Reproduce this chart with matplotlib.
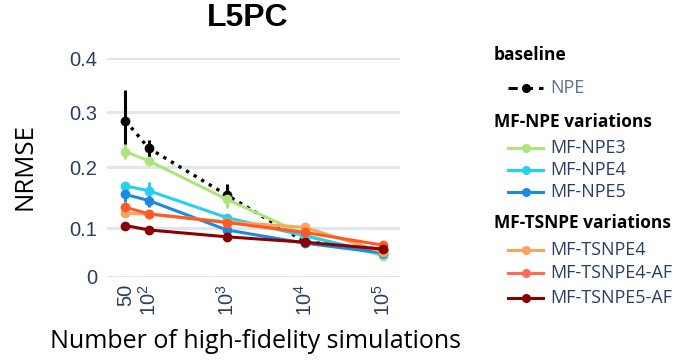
import numpy as np
import matplotlib
matplotlib.use("Agg")
import matplotlib.pyplot as plt
from matplotlib.lines import Line2D

plt.rcParams['mathtext.fontset'] = 'custom'
plt.rcParams['mathtext.rm'] = 'Liberation Sans'

# ---------------- data ----------------
x_vals = [50, 100, 1000, 10000, 100000]
x_tick_labels = ['50', r'$\mathregular{10^{2}}$', r'$\mathregular{10^{3}}$',
                 r'$\mathregular{10^{4}}$', r'$\mathregular{10^{5}}$']
y_ticks = [0, 0.1, 0.2, 0.3, 0.4]
y_tick_labels = ['0', '0.1', '0.2', '0.3', '0.4']

series_names = ['NPE', 'MF-NPE3', 'MF-NPE4', 'MF-NPE5',
                'MF-TSNPE4', 'MF-TSNPE4-AF', 'MF-TSNPE5-AF']
npe = [0.284, 0.234, 0.154, 0.072, 0.056]
npe_err = [0.056, 0.015, 0.018, 0.003, 0.002]
mf_npe3 = [0.228, 0.211, 0.147, 0.086, 0.043]
mf_npe3_err = [0.014, 0.005, 0.014, 0.003, 0.002]
mf_npe4 = [0.169, 0.161, 0.117, 0.084, 0.047]
mf_npe4_err = [0.004, 0.014, 0.004, 0.003, 0.002]
mf_npe5 = [0.155, 0.145, 0.096, 0.069, 0.049]
mf_npe5_err = [0.012, 0.010, 0.003, 0.002, 0.002]
mf_tsnpe4 = [0.124, 0.123, 0.110, 0.101, 0.051]
mf_tsnpe4_err = [0.003, 0.003, 0.003, 0.003, 0.002]
mf_tsnpe4_af = [0.134, 0.123, 0.109, 0.091, 0.065]
mf_tsnpe4_af_err = [0.003, 0.003, 0.003, 0.003, 0.002]
mf_tsnpe5_af = [0.104, 0.096, 0.082, 0.071, 0.057]
mf_tsnpe5_af_err = [0.002, 0.002, 0.002, 0.002, 0.002]

values = [npe, mf_npe3, mf_npe4, mf_npe5, mf_tsnpe4, mf_tsnpe4_af, mf_tsnpe5_af]
errors = [npe_err, mf_npe3_err, mf_npe4_err, mf_npe5_err,
          mf_tsnpe4_err, mf_tsnpe4_af_err, mf_tsnpe5_af_err]
colors = ['black', '#AEE57A', '#26D0F0', '#1E88E5', '#FCA35D', '#FF5A26', '#8B0000']
legend_colors = ['black', '#AEE57A', '#26D0F0', '#1E88E5', '#FCA35D', '#FF6A5A', '#8B0000']
styles = [':', '-', '-', '-', '-', '-', '-']

# ---------------- figure ----------------
W, H = 675, 360
fig = plt.figure(figsize=(W / 100, H / 100), dpi=100)
ax = fig.add_axes([107 / W, 1 - 277 / H, (400 - 107) / W, (277 - 58) / H])

# slightly non-uniform vertical spacing as in the reference
ypix = [0, 49, 110, 165, 219]
fwd = lambda v: np.interp(v, y_ticks, ypix)
inv = lambda p: np.interp(p, ypix, y_ticks)
ax.set_yscale('function', functions=(fwd, inv))
ax.set_xscale('log')

for vals, errs, c, ls in zip(values, errors, colors, styles):
    ax.errorbar(x_vals, vals, yerr=errs, color=c, ecolor=c, linestyle=ls,
                linewidth=2.2 if ls == '-' else 2.4, marker='o', markersize=6,
                elinewidth=2.2, capsize=0, clip_on=False, zorder=3)

ax.set_xlim(29, 166000)
ax.set_ylim(0, 0.4)
ax.set_xticks(x_vals)
ax.set_xticklabels(x_tick_labels, rotation=90, fontsize=14.5,
                   family='Liberation Sans', color='#2a3f5f')
ax.xaxis.set_minor_locator(matplotlib.ticker.NullLocator())
ax.set_yticks(y_ticks)
ax.set_yticklabels(y_tick_labels, fontsize=14.5, family='Liberation Sans', color='#2a3f5f')
ax.yaxis.set_minor_locator(matplotlib.ticker.NullLocator())
ax.tick_params(axis='both', length=0, pad=5)
ax.tick_params(axis='y', pad=7)
ax.grid(axis='y', color='#E1E5EC', linewidth=2.2, zorder=0)
ax.set_axisbelow(True)
for s in ax.spines.values():
    s.set_visible(False)

fig.text(248 / W, 1 - 18 / H, 'L5PC', ha='center', va='center',
         fontsize=23, fontweight='bold', family='Liberation Sans')
fig.text(256 / W, 1 - 341 / H, 'Number of high-fidelity simulations', ha='center',
         va='center', fontsize=18, family='Open Sans', color='black')
fig.text(25 / W, 1 - 167 / H, 'NRMSE', ha='center', va='center', rotation=90,
         fontsize=18.5, family='Open Sans', color='black')

# ---------------- legend ----------------
group_titles = ['baseline', 'MF-NPE variations', 'MF-TSNPE variations']
title_y = [55, 122, 223]
item_y = [88, 148, 170, 192, 250, 273, 298]
for t, ty in zip(group_titles, title_y):
    fig.text(494 / W, 1 - ty / H, t, ha='left', va='center', fontsize=12.5,
             fontweight='bold', family='Open Sans', color='black')
for name, c, ls, iy in zip(series_names, legend_colors, styles, item_y):
    yy = 1 - iy / H
    fig.add_artist(Line2D([508 / W, 543 / W], [yy, yy], transform=fig.transFigure,
                          color=c, linestyle='--' if ls == ':' else '-',
                          linewidth=2.2, dashes=(3, 2) if ls == ':' else (None, None)))
    fig.add_artist(Line2D([526 / W], [yy], transform=fig.transFigure, color=c,
                          marker='o', markersize=5.5))
    fig.text(550 / W, yy, name, ha='left', va='center', fontsize=13,
             family='Open Sans', color='#5d7190' if name == 'NPE' else '#2a3f5f')

fig.savefig('out.png', dpi=100)
